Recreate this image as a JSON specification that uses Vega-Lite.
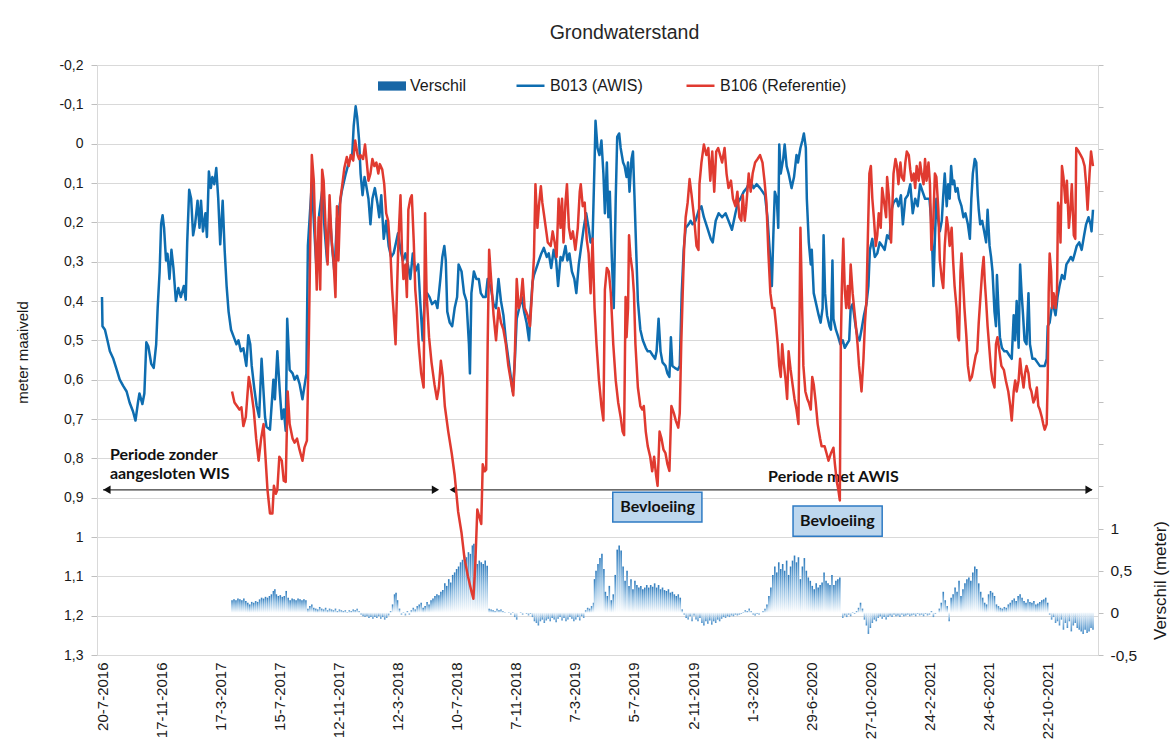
{
  "$schema": "https://vega.github.io/schema/vega-lite/v6.json",
  "width": 1001,
  "height": 590,
  "autosize": {"type": "none"},
  "padding": {"left": 97, "top": 65, "right": 78, "bottom": 101},
  "background": "#ffffff",
  "title": {"text": "Grondwaterstand", "frame": "group", "anchor": "middle", "dx": 27, "offset": 15, "font": "Liberation Sans", "fontSize": 19.5, "fontWeight": "normal", "color": "#262626"},
  "datasets": {
    "b013": [
      {"d":"2016-07-20","v":0.39},{"d":"2016-07-21","v":0.464},{"d":"2016-07-26","v":0.473},{"d":"2016-07-31","v":0.5},{"d":"2016-08-05","v":0.528},{"d":"2016-08-12","v":0.547},{"d":"2016-08-19","v":0.575},{"d":"2016-08-25","v":0.6},{"d":"2016-09-01","v":0.616},{"d":"2016-09-08","v":0.63},{"d":"2016-09-14","v":0.658},{"d":"2016-09-21","v":0.681},{"d":"2016-09-26","v":0.704},{"d":"2016-10-01","v":0.658},{"d":"2016-10-04","v":0.635},{"d":"2016-10-10","v":0.662},{"d":"2016-10-14","v":0.635},{"d":"2016-10-18","v":0.505},{"d":"2016-10-22","v":0.515},{"d":"2016-10-28","v":0.56},{"d":"2016-11-02","v":0.57},{"d":"2016-11-07","v":0.51},{"d":"2016-11-10","v":0.418},{"d":"2016-11-14","v":0.325},{"d":"2016-11-17","v":0.205},{"d":"2016-11-20","v":0.182},{"d":"2016-11-23","v":0.214},{"d":"2016-11-27","v":0.297},{"d":"2016-11-30","v":0.28},{"d":"2016-12-04","v":0.344},{"d":"2016-12-08","v":0.27},{"d":"2016-12-12","v":0.316},{"d":"2016-12-17","v":0.4},{"d":"2016-12-22","v":0.367},{"d":"2016-12-27","v":0.39},{"d":"2017-01-02","v":0.362},{"d":"2017-01-06","v":0.397},{"d":"2017-01-09","v":0.251},{"d":"2017-01-13","v":0.117},{"d":"2017-01-17","v":0.14},{"d":"2017-01-21","v":0.233},{"d":"2017-01-25","v":0.205},{"d":"2017-01-30","v":0.145},{"d":"2017-02-03","v":0.214},{"d":"2017-02-06","v":0.145},{"d":"2017-02-10","v":0.223},{"d":"2017-02-15","v":0.177},{"d":"2017-02-18","v":0.237},{"d":"2017-02-22","v":0.071},{"d":"2017-02-26","v":0.113},{"d":"2017-03-01","v":0.085},{"d":"2017-03-05","v":0.103},{"d":"2017-03-09","v":0.062},{"d":"2017-03-13","v":0.14},{"d":"2017-03-17","v":0.256},{"d":"2017-03-22","v":0.145},{"d":"2017-03-26","v":0.27},{"d":"2017-03-30","v":0.362},{"d":"2017-04-03","v":0.427},{"d":"2017-04-08","v":0.473},{"d":"2017-04-13","v":0.49},{"d":"2017-04-19","v":0.51},{"d":"2017-04-23","v":0.5},{"d":"2017-04-28","v":0.528},{"d":"2017-05-03","v":0.52},{"d":"2017-05-09","v":0.565},{"d":"2017-05-13","v":0.487},{"d":"2017-05-17","v":0.51},{"d":"2017-05-20","v":0.565},{"d":"2017-05-25","v":0.62},{"d":"2017-05-30","v":0.667},{"d":"2017-06-04","v":0.695},{"d":"2017-06-09","v":0.547},{"d":"2017-06-16","v":0.695},{"d":"2017-06-19","v":0.72},{"d":"2017-06-26","v":0.727},{"d":"2017-07-03","v":0.6},{"d":"2017-07-06","v":0.65},{"d":"2017-07-11","v":0.528},{"d":"2017-07-16","v":0.63},{"d":"2017-07-20","v":0.7},{"d":"2017-07-24","v":0.676},{"d":"2017-07-28","v":0.73},{"d":"2017-07-31","v":0.445},{"d":"2017-08-05","v":0.575},{"d":"2017-08-11","v":0.584},{"d":"2017-08-15","v":0.6},{"d":"2017-08-20","v":0.59},{"d":"2017-08-25","v":0.61},{"d":"2017-08-31","v":0.65},{"d":"2017-09-08","v":0.584},{"d":"2017-09-11","v":0.26},{"d":"2017-09-14","v":0.2},{"d":"2017-09-19","v":0.1},{"d":"2017-09-24","v":0.22},{"d":"2017-09-29","v":0.33},{"d":"2017-10-04","v":0.18},{"d":"2017-10-10","v":0.12},{"d":"2017-10-15","v":0.22},{"d":"2017-10-20","v":0.3},{"d":"2017-10-25","v":0.17},{"d":"2017-10-30","v":0.26},{"d":"2017-11-04","v":0.33},{"d":"2017-11-09","v":0.19},{"d":"2017-11-14","v":0.16},{"d":"2017-11-19","v":0.12},{"d":"2017-11-22","v":0.103},{"d":"2017-11-27","v":0.076},{"d":"2017-12-03","v":0.048},{"d":"2017-12-10","v":0.029},{"d":"2017-12-13","v":-0.045},{"d":"2017-12-17","v":-0.095},{"d":"2017-12-20","v":-0.068},{"d":"2017-12-24","v":-0.008},{"d":"2017-12-27","v":0.076},{"d":"2017-12-31","v":0.131},{"d":"2018-01-04","v":0.085},{"d":"2018-01-07","v":0.103},{"d":"2018-01-12","v":0.14},{"d":"2018-01-16","v":0.205},{"d":"2018-01-20","v":0.14},{"d":"2018-01-25","v":0.113},{"d":"2018-01-30","v":0.15},{"d":"2018-02-03","v":0.187},{"d":"2018-02-07","v":0.131},{"d":"2018-02-12","v":0.242},{"d":"2018-02-17","v":0.196},{"d":"2018-02-22","v":0.26},{"d":"2018-02-27","v":0.288},{"d":"2018-03-04","v":0.279},{"d":"2018-03-09","v":0.251},{"d":"2018-03-13","v":0.228},{"d":"2018-03-18","v":0.27},{"d":"2018-03-23","v":0.297},{"d":"2018-03-28","v":0.279},{"d":"2018-04-02","v":0.307},{"d":"2018-04-07","v":0.344},{"d":"2018-04-12","v":0.279},{"d":"2018-04-17","v":0.325},{"d":"2018-04-23","v":0.307},{"d":"2018-04-27","v":0.4},{"d":"2018-05-02","v":0.5},{"d":"2018-05-06","v":0.4},{"d":"2018-05-11","v":0.38},{"d":"2018-05-16","v":0.39},{"d":"2018-05-21","v":0.408},{"d":"2018-05-28","v":0.4},{"d":"2018-06-01","v":0.418},{"d":"2018-06-07","v":0.344},{"d":"2018-06-11","v":0.288},{"d":"2018-06-15","v":0.26},{"d":"2018-06-18","v":0.297},{"d":"2018-06-21","v":0.427},{"d":"2018-06-26","v":0.455},{"d":"2018-07-01","v":0.464},{"d":"2018-07-06","v":0.418},{"d":"2018-07-11","v":0.39},{"d":"2018-07-14","v":0.307},{"d":"2018-07-20","v":0.325},{"d":"2018-07-25","v":0.38},{"d":"2018-07-30","v":0.4},{"d":"2018-08-04","v":0.51},{"d":"2018-08-06","v":0.584},{"d":"2018-08-09","v":0.38},{"d":"2018-08-14","v":0.325},{"d":"2018-08-19","v":0.344},{"d":"2018-08-24","v":0.344},{"d":"2018-08-28","v":0.38},{"d":"2018-09-02","v":0.39},{"d":"2018-09-07","v":0.39},{"d":"2018-09-11","v":0.344},{"d":"2018-09-18","v":0.37},{"d":"2018-09-23","v":0.408},{"d":"2018-09-28","v":0.418},{"d":"2018-10-03","v":0.344},{"d":"2018-10-08","v":0.4},{"d":"2018-10-13","v":0.436},{"d":"2018-10-18","v":0.5},{"d":"2018-10-25","v":0.565},{"d":"2018-11-01","v":0.63},{"d":"2018-11-05","v":0.556},{"d":"2018-11-09","v":0.445},{"d":"2018-11-14","v":0.418},{"d":"2018-11-19","v":0.39},{"d":"2018-11-24","v":0.427},{"d":"2018-11-29","v":0.455},{"d":"2018-12-04","v":0.5},{"d":"2018-12-07","v":0.427},{"d":"2018-12-11","v":0.353},{"d":"2018-12-14","v":0.334},{"d":"2018-12-19","v":0.316},{"d":"2018-12-24","v":0.297},{"d":"2018-12-29","v":0.279},{"d":"2019-01-03","v":0.265},{"d":"2019-01-09","v":0.288},{"d":"2019-01-13","v":0.279},{"d":"2019-01-18","v":0.316},{"d":"2019-01-23","v":0.27},{"d":"2019-01-28","v":0.297},{"d":"2019-02-01","v":0.362},{"d":"2019-02-06","v":0.288},{"d":"2019-02-10","v":0.297},{"d":"2019-02-16","v":0.26},{"d":"2019-02-20","v":0.297},{"d":"2019-02-24","v":0.279},{"d":"2019-03-01","v":0.325},{"d":"2019-03-06","v":0.344},{"d":"2019-03-10","v":0.38},{"d":"2019-03-15","v":0.307},{"d":"2019-03-19","v":0.27},{"d":"2019-03-25","v":0.214},{"d":"2019-03-30","v":0.177},{"d":"2019-04-04","v":0.214},{"d":"2019-04-08","v":0.251},{"d":"2019-04-12","v":0.242},{"d":"2019-04-16","v":0.048},{"d":"2019-04-18","v":-0.058},{"d":"2019-04-22","v":0.011},{"d":"2019-04-26","v":0.029},{"d":"2019-04-30","v":-0.008},{"d":"2019-05-04","v":0.076},{"d":"2019-05-07","v":0.177},{"d":"2019-05-11","v":0.048},{"d":"2019-05-14","v":0.187},{"d":"2019-05-17","v":0.122},{"d":"2019-05-21","v":0.288},{"d":"2019-05-25","v":0.418},{"d":"2019-05-29","v":0.14},{"d":"2019-06-01","v":-0.017},{"d":"2019-06-05","v":-0.026},{"d":"2019-06-08","v":0.011},{"d":"2019-06-13","v":0.048},{"d":"2019-06-16","v":0.057},{"d":"2019-06-20","v":0.085},{"d":"2019-06-23","v":0.048},{"d":"2019-06-26","v":0.122},{"d":"2019-06-30","v":0.039},{"d":"2019-07-03","v":0.02},{"d":"2019-07-06","v":0.131},{"d":"2019-07-10","v":0.288},{"d":"2019-07-13","v":0.4},{"d":"2019-07-18","v":0.473},{"d":"2019-07-23","v":0.5},{"d":"2019-07-29","v":0.519},{"d":"2019-08-02","v":0.528},{"d":"2019-08-07","v":0.528},{"d":"2019-08-12","v":0.538},{"d":"2019-08-17","v":0.547},{"d":"2019-08-20","v":0.528},{"d":"2019-08-24","v":0.445},{"d":"2019-08-28","v":0.528},{"d":"2019-09-01","v":0.556},{"d":"2019-09-07","v":0.565},{"d":"2019-09-11","v":0.584},{"d":"2019-09-15","v":0.593},{"d":"2019-09-18","v":0.492},{"d":"2019-09-21","v":0.565},{"d":"2019-09-26","v":0.57},{"d":"2019-10-02","v":0.575},{"d":"2019-10-06","v":0.565},{"d":"2019-10-10","v":0.38},{"d":"2019-10-14","v":0.27},{"d":"2019-10-18","v":0.214},{"d":"2019-10-24","v":0.205},{"d":"2019-10-28","v":0.196},{"d":"2019-11-01","v":0.205},{"d":"2019-11-07","v":0.196},{"d":"2019-11-14","v":0.168},{"d":"2019-11-19","v":0.159},{"d":"2019-11-24","v":0.187},{"d":"2019-12-01","v":0.214},{"d":"2019-12-08","v":0.242},{"d":"2019-12-12","v":0.251},{"d":"2019-12-18","v":0.196},{"d":"2019-12-24","v":0.177},{"d":"2019-12-31","v":0.187},{"d":"2020-01-07","v":0.177},{"d":"2020-01-13","v":0.196},{"d":"2020-01-20","v":0.219},{"d":"2020-01-27","v":0.177},{"d":"2020-02-01","v":0.15},{"d":"2020-02-06","v":0.14},{"d":"2020-02-13","v":0.122},{"d":"2020-02-19","v":0.113},{"d":"2020-02-26","v":0.094},{"d":"2020-03-04","v":0.113},{"d":"2020-03-10","v":0.103},{"d":"2020-03-17","v":0.113},{"d":"2020-03-22","v":0.122},{"d":"2020-03-27","v":0.131},{"d":"2020-04-01","v":0.187},{"d":"2020-04-06","v":0.279},{"d":"2020-04-10","v":0.362},{"d":"2020-04-13","v":0.233},{"d":"2020-04-16","v":0.122},{"d":"2020-04-20","v":0.14},{"d":"2020-04-23","v":0.214},{"d":"2020-04-25","v":0.002},{"d":"2020-04-28","v":0.076},{"d":"2020-05-03","v":0.039},{"d":"2020-05-06","v":0.002},{"d":"2020-05-10","v":0.057},{"d":"2020-05-14","v":0.076},{"d":"2020-05-20","v":0.113},{"d":"2020-05-25","v":0.085},{"d":"2020-05-30","v":0.029},{"d":"2020-06-02","v":0.048},{"d":"2020-06-07","v":0.011},{"d":"2020-06-11","v":-0.008},{"d":"2020-06-14","v":-0.026},{"d":"2020-06-18","v":0.011},{"d":"2020-06-20","v":0.14},{"d":"2020-06-24","v":0.251},{"d":"2020-06-28","v":0.307},{"d":"2020-06-30","v":0.27},{"d":"2020-07-04","v":0.38},{"d":"2020-07-09","v":0.408},{"d":"2020-07-14","v":0.436},{"d":"2020-07-18","v":0.455},{"d":"2020-07-22","v":0.418},{"d":"2020-07-24","v":0.233},{"d":"2020-07-27","v":0.38},{"d":"2020-07-31","v":0.436},{"d":"2020-08-05","v":0.464},{"d":"2020-08-08","v":0.473},{"d":"2020-08-11","v":0.297},{"d":"2020-08-13","v":0.445},{"d":"2020-08-18","v":0.473},{"d":"2020-08-23","v":0.492},{"d":"2020-08-27","v":0.51},{"d":"2020-09-01","v":0.5},{"d":"2020-09-05","v":0.519},{"d":"2020-09-09","v":0.51},{"d":"2020-09-14","v":0.5},{"d":"2020-09-17","v":0.418},{"d":"2020-09-21","v":0.408},{"d":"2020-09-24","v":0.436},{"d":"2020-09-27","v":0.464},{"d":"2020-10-01","v":0.492},{"d":"2020-10-05","v":0.5},{"d":"2020-10-09","v":0.473},{"d":"2020-10-14","v":0.436},{"d":"2020-10-19","v":0.408},{"d":"2020-10-23","v":0.362},{"d":"2020-10-26","v":0.27},{"d":"2020-10-31","v":0.242},{"d":"2020-11-05","v":0.288},{"d":"2020-11-10","v":0.279},{"d":"2020-11-15","v":0.251},{"d":"2020-11-20","v":0.26},{"d":"2020-11-25","v":0.27},{"d":"2020-11-30","v":0.233},{"d":"2020-12-05","v":0.242},{"d":"2020-12-09","v":0.168},{"d":"2020-12-13","v":0.15},{"d":"2020-12-19","v":0.14},{"d":"2020-12-23","v":0.159},{"d":"2020-12-28","v":0.131},{"d":"2021-01-01","v":0.205},{"d":"2021-01-06","v":0.14},{"d":"2021-01-11","v":0.131},{"d":"2021-01-16","v":0.103},{"d":"2021-01-21","v":0.177},{"d":"2021-01-26","v":0.14},{"d":"2021-01-31","v":0.159},{"d":"2021-02-05","v":0.103},{"d":"2021-02-10","v":0.122},{"d":"2021-02-15","v":0.14},{"d":"2021-02-20","v":0.14},{"d":"2021-02-24","v":0.14},{"d":"2021-02-27","v":0.187},{"d":"2021-03-02","v":0.279},{"d":"2021-03-04","v":0.362},{"d":"2021-03-07","v":0.242},{"d":"2021-03-10","v":0.14},{"d":"2021-03-14","v":0.196},{"d":"2021-03-17","v":0.223},{"d":"2021-03-21","v":0.196},{"d":"2021-03-24","v":0.131},{"d":"2021-03-27","v":0.076},{"d":"2021-03-31","v":0.159},{"d":"2021-04-03","v":0.103},{"d":"2021-04-06","v":0.14},{"d":"2021-04-09","v":0.057},{"d":"2021-04-12","v":0.103},{"d":"2021-04-15","v":0.094},{"d":"2021-04-18","v":0.122},{"d":"2021-04-22","v":0.113},{"d":"2021-04-25","v":0.14},{"d":"2021-04-30","v":0.159},{"d":"2021-05-04","v":0.187},{"d":"2021-05-08","v":0.177},{"d":"2021-05-13","v":0.205},{"d":"2021-05-17","v":0.242},{"d":"2021-05-20","v":0.14},{"d":"2021-05-23","v":0.076},{"d":"2021-05-27","v":0.039},{"d":"2021-05-30","v":0.048},{"d":"2021-06-02","v":0.131},{"d":"2021-06-04","v":0.168},{"d":"2021-06-07","v":0.205},{"d":"2021-06-11","v":0.196},{"d":"2021-06-15","v":0.223},{"d":"2021-06-19","v":0.251},{"d":"2021-06-22","v":0.168},{"d":"2021-06-26","v":0.26},{"d":"2021-06-29","v":0.288},{"d":"2021-07-02","v":0.325},{"d":"2021-07-06","v":0.427},{"d":"2021-07-09","v":0.464},{"d":"2021-07-11","v":0.334},{"d":"2021-07-14","v":0.418},{"d":"2021-07-17","v":0.492},{"d":"2021-07-21","v":0.519},{"d":"2021-07-26","v":0.528},{"d":"2021-07-31","v":0.528},{"d":"2021-08-05","v":0.538},{"d":"2021-08-10","v":0.547},{"d":"2021-08-14","v":0.436},{"d":"2021-08-17","v":0.5},{"d":"2021-08-20","v":0.4},{"d":"2021-08-24","v":0.519},{"d":"2021-08-27","v":0.307},{"d":"2021-08-30","v":0.38},{"d":"2021-09-02","v":0.436},{"d":"2021-09-05","v":0.5},{"d":"2021-09-09","v":0.51},{"d":"2021-09-13","v":0.38},{"d":"2021-09-16","v":0.51},{"d":"2021-09-21","v":0.547},{"d":"2021-09-26","v":0.547},{"d":"2021-10-01","v":0.556},{"d":"2021-10-06","v":0.565},{"d":"2021-10-11","v":0.565},{"d":"2021-10-16","v":0.565},{"d":"2021-10-20","v":0.547},{"d":"2021-10-22","v":0.464},{"d":"2021-10-26","v":0.455},{"d":"2021-10-30","v":0.418},{"d":"2021-11-02","v":0.408},{"d":"2021-11-07","v":0.436},{"d":"2021-11-11","v":0.39},{"d":"2021-11-15","v":0.362},{"d":"2021-11-20","v":0.334},{"d":"2021-11-25","v":0.344},{"d":"2021-11-29","v":0.307},{"d":"2021-12-04","v":0.297},{"d":"2021-12-08","v":0.288},{"d":"2021-12-12","v":0.297},{"d":"2021-12-16","v":0.279},{"d":"2021-12-20","v":0.26},{"d":"2021-12-25","v":0.251},{"d":"2021-12-30","v":0.27},{"d":"2022-01-04","v":0.233},{"d":"2022-01-08","v":0.205},{"d":"2022-01-13","v":0.187},{"d":"2022-01-17","v":0.205},{"d":"2022-01-19","v":0.223},{"d":"2022-01-22","v":0.168}
    ],
    "b106": [
      {"d":"2017-04-10","v":0.63},{"d":"2017-04-15","v":0.658},{"d":"2017-04-20","v":0.667},{"d":"2017-04-25","v":0.676},{"d":"2017-04-29","v":0.67},{"d":"2017-05-03","v":0.718},{"d":"2017-05-08","v":0.695},{"d":"2017-05-14","v":0.593},{"d":"2017-05-18","v":0.62},{"d":"2017-05-24","v":0.676},{"d":"2017-05-29","v":0.75},{"d":"2017-06-03","v":0.806},{"d":"2017-06-08","v":0.75},{"d":"2017-06-13","v":0.713},{"d":"2017-06-16","v":0.778},{"d":"2017-06-21","v":0.88},{"d":"2017-06-26","v":0.94},{"d":"2017-07-01","v":0.94},{"d":"2017-07-04","v":0.87},{"d":"2017-07-08","v":0.89},{"d":"2017-07-11","v":0.88},{"d":"2017-07-15","v":0.796},{"d":"2017-07-20","v":0.806},{"d":"2017-07-24","v":0.857},{"d":"2017-07-28","v":0.86},{"d":"2017-08-01","v":0.63},{"d":"2017-08-05","v":0.713},{"d":"2017-08-11","v":0.75},{"d":"2017-08-15","v":0.76},{"d":"2017-08-20","v":0.75},{"d":"2017-08-25","v":0.778},{"d":"2017-08-31","v":0.806},{"d":"2017-09-04","v":0.773},{"d":"2017-09-09","v":0.755},{"d":"2017-09-13","v":0.492},{"d":"2017-09-16","v":0.233},{"d":"2017-09-19","v":0.029},{"d":"2017-09-23","v":0.094},{"d":"2017-09-26","v":0.233},{"d":"2017-09-29","v":0.371},{"d":"2017-10-03","v":0.187},{"d":"2017-10-06","v":0.371},{"d":"2017-10-10","v":0.066},{"d":"2017-10-13","v":0.094},{"d":"2017-10-17","v":0.214},{"d":"2017-10-21","v":0.307},{"d":"2017-10-25","v":0.131},{"d":"2017-10-29","v":0.242},{"d":"2017-11-02","v":0.297},{"d":"2017-11-06","v":0.39},{"d":"2017-11-09","v":0.159},{"d":"2017-11-12","v":0.297},{"d":"2017-11-16","v":0.14},{"d":"2017-11-20","v":0.103},{"d":"2017-11-24","v":0.062},{"d":"2017-11-29","v":0.034},{"d":"2017-12-03","v":0.057},{"d":"2017-12-07","v":0.029},{"d":"2017-12-12","v":0.043},{"d":"2017-12-16","v":-0.008},{"d":"2017-12-21","v":0.029},{"d":"2017-12-24","v":0.039},{"d":"2017-12-27","v":0.029},{"d":"2018-01-01","v":0.039},{"d":"2018-01-05","v":0.002},{"d":"2018-01-08","v":0.039},{"d":"2018-01-12","v":0.094},{"d":"2018-01-16","v":0.076},{"d":"2018-01-20","v":0.039},{"d":"2018-01-24","v":0.057},{"d":"2018-01-28","v":0.048},{"d":"2018-02-01","v":0.076},{"d":"2018-02-04","v":0.052},{"d":"2018-02-09","v":0.066},{"d":"2018-02-13","v":0.103},{"d":"2018-02-17","v":0.177},{"d":"2018-02-21","v":0.196},{"d":"2018-02-26","v":0.288},{"d":"2018-03-01","v":0.371},{"d":"2018-03-04","v":0.427},{"d":"2018-03-08","v":0.51},{"d":"2018-03-11","v":0.371},{"d":"2018-03-14","v":0.242},{"d":"2018-03-18","v":0.131},{"d":"2018-03-21","v":0.27},{"d":"2018-03-24","v":0.344},{"d":"2018-03-28","v":0.307},{"d":"2018-03-31","v":0.39},{"d":"2018-04-03","v":0.168},{"d":"2018-04-07","v":0.14},{"d":"2018-04-10","v":0.131},{"d":"2018-04-14","v":0.251},{"d":"2018-04-17","v":0.371},{"d":"2018-04-20","v":0.418},{"d":"2018-04-24","v":0.51},{"d":"2018-04-29","v":0.584},{"d":"2018-05-04","v":0.62},{"d":"2018-05-07","v":0.177},{"d":"2018-05-10","v":0.38},{"d":"2018-05-15","v":0.492},{"d":"2018-05-20","v":0.556},{"d":"2018-05-26","v":0.612},{"d":"2018-05-31","v":0.649},{"d":"2018-06-04","v":0.62},{"d":"2018-06-08","v":0.552},{"d":"2018-06-12","v":0.593},{"d":"2018-06-16","v":0.667},{"d":"2018-06-23","v":0.732},{"d":"2018-06-30","v":0.787},{"d":"2018-07-06","v":0.843},{"d":"2018-07-13","v":0.935},{"d":"2018-07-20","v":0.99},{"d":"2018-07-26","v":1.055},{"d":"2018-08-02","v":1.1},{"d":"2018-08-09","v":1.138},{"d":"2018-08-13","v":1.157},{"d":"2018-08-17","v":1.065},{"d":"2018-08-21","v":0.93},{"d":"2018-08-26","v":0.953},{"d":"2018-08-29","v":0.967},{"d":"2018-09-01","v":0.815},{"d":"2018-09-05","v":0.833},{"d":"2018-09-08","v":0.829},{"d":"2018-09-11","v":0.51},{"d":"2018-09-14","v":0.27},{"d":"2018-09-18","v":0.344},{"d":"2018-09-23","v":0.436},{"d":"2018-09-28","v":0.5},{"d":"2018-10-03","v":0.418},{"d":"2018-10-08","v":0.455},{"d":"2018-10-13","v":0.473},{"d":"2018-10-18","v":0.51},{"d":"2018-10-23","v":0.565},{"d":"2018-10-28","v":0.602},{"d":"2018-11-02","v":0.64},{"d":"2018-11-05","v":0.547},{"d":"2018-11-09","v":0.344},{"d":"2018-11-13","v":0.418},{"d":"2018-11-17","v":0.4},{"d":"2018-11-21","v":0.344},{"d":"2018-11-25","v":0.418},{"d":"2018-12-01","v":0.436},{"d":"2018-12-06","v":0.464},{"d":"2018-12-10","v":0.38},{"d":"2018-12-14","v":0.288},{"d":"2018-12-17","v":0.103},{"d":"2018-12-21","v":0.214},{"d":"2018-12-24","v":0.159},{"d":"2018-12-28","v":0.108},{"d":"2018-12-31","v":0.15},{"d":"2019-01-03","v":0.177},{"d":"2019-01-08","v":0.223},{"d":"2019-01-11","v":0.251},{"d":"2019-01-17","v":0.26},{"d":"2019-01-21","v":0.223},{"d":"2019-01-25","v":0.251},{"d":"2019-01-29","v":0.288},{"d":"2019-02-02","v":0.14},{"d":"2019-02-06","v":0.214},{"d":"2019-02-09","v":0.14},{"d":"2019-02-12","v":0.251},{"d":"2019-02-16","v":0.15},{"d":"2019-02-19","v":0.103},{"d":"2019-02-23","v":0.214},{"d":"2019-02-27","v":0.242},{"d":"2019-03-03","v":0.223},{"d":"2019-03-08","v":0.27},{"d":"2019-03-13","v":0.214},{"d":"2019-03-17","v":0.122},{"d":"2019-03-19","v":0.103},{"d":"2019-03-23","v":0.159},{"d":"2019-03-27","v":0.15},{"d":"2019-03-31","v":0.242},{"d":"2019-04-04","v":0.279},{"d":"2019-04-08","v":0.38},{"d":"2019-04-12","v":0.242},{"d":"2019-04-16","v":0.418},{"d":"2019-04-20","v":0.51},{"d":"2019-04-25","v":0.602},{"d":"2019-04-30","v":0.667},{"d":"2019-05-04","v":0.704},{"d":"2019-05-07","v":0.371},{"d":"2019-05-11","v":0.316},{"d":"2019-05-15","v":0.325},{"d":"2019-05-19","v":0.38},{"d":"2019-05-24","v":0.51},{"d":"2019-05-29","v":0.602},{"d":"2019-06-03","v":0.658},{"d":"2019-06-08","v":0.695},{"d":"2019-06-12","v":0.732},{"d":"2019-06-15","v":0.741},{"d":"2019-06-18","v":0.39},{"d":"2019-06-20","v":0.492},{"d":"2019-06-23","v":0.418},{"d":"2019-06-25","v":0.233},{"d":"2019-06-28","v":0.288},{"d":"2019-07-02","v":0.325},{"d":"2019-07-05","v":0.38},{"d":"2019-07-08","v":0.51},{"d":"2019-07-13","v":0.62},{"d":"2019-07-18","v":0.667},{"d":"2019-07-22","v":0.676},{"d":"2019-07-25","v":0.667},{"d":"2019-07-29","v":0.732},{"d":"2019-08-02","v":0.769},{"d":"2019-08-07","v":0.796},{"d":"2019-08-11","v":0.833},{"d":"2019-08-15","v":0.796},{"d":"2019-08-19","v":0.843},{"d":"2019-08-22","v":0.87},{"d":"2019-08-26","v":0.732},{"d":"2019-08-30","v":0.75},{"d":"2019-09-03","v":0.778},{"d":"2019-09-07","v":0.787},{"d":"2019-09-11","v":0.815},{"d":"2019-09-15","v":0.832},{"d":"2019-09-19","v":0.667},{"d":"2019-09-24","v":0.685},{"d":"2019-09-28","v":0.704},{"d":"2019-10-03","v":0.722},{"d":"2019-10-06","v":0.685},{"d":"2019-10-09","v":0.51},{"d":"2019-10-12","v":0.38},{"d":"2019-10-15","v":0.26},{"d":"2019-10-18","v":0.187},{"d":"2019-10-22","v":0.15},{"d":"2019-10-26","v":0.09},{"d":"2019-10-30","v":0.13},{"d":"2019-11-04","v":0.187},{"d":"2019-11-09","v":0.26},{"d":"2019-11-13","v":0.27},{"d":"2019-11-15","v":0.103},{"d":"2019-11-19","v":0.048},{"d":"2019-11-24","v":0.002},{"d":"2019-11-29","v":0.029},{"d":"2019-12-03","v":0.011},{"d":"2019-12-07","v":0.094},{"d":"2019-12-11","v":0.02},{"d":"2019-12-15","v":0.122},{"d":"2019-12-19","v":0.02},{"d":"2019-12-23","v":0.011},{"d":"2019-12-27","v":0.029},{"d":"2019-12-31","v":0.048},{"d":"2020-01-05","v":0.011},{"d":"2020-01-09","v":0.076},{"d":"2020-01-13","v":0.113},{"d":"2020-01-18","v":0.094},{"d":"2020-01-22","v":0.14},{"d":"2020-01-27","v":0.159},{"d":"2020-01-31","v":0.122},{"d":"2020-02-04","v":0.187},{"d":"2020-02-08","v":0.196},{"d":"2020-02-11","v":0.131},{"d":"2020-02-15","v":0.196},{"d":"2020-02-18","v":0.159},{"d":"2020-02-23","v":0.076},{"d":"2020-02-27","v":0.122},{"d":"2020-03-02","v":0.076},{"d":"2020-03-07","v":0.048},{"d":"2020-03-12","v":0.039},{"d":"2020-03-17","v":0.029},{"d":"2020-03-22","v":0.048},{"d":"2020-03-26","v":0.094},{"d":"2020-03-30","v":0.15},{"d":"2020-04-03","v":0.279},{"d":"2020-04-07","v":0.38},{"d":"2020-04-11","v":0.418},{"d":"2020-04-15","v":0.418},{"d":"2020-04-18","v":0.455},{"d":"2020-04-22","v":0.51},{"d":"2020-04-25","v":0.565},{"d":"2020-04-28","v":0.593},{"d":"2020-05-01","v":0.51},{"d":"2020-05-04","v":0.556},{"d":"2020-05-08","v":0.602},{"d":"2020-05-11","v":0.649},{"d":"2020-05-14","v":0.528},{"d":"2020-05-18","v":0.574},{"d":"2020-05-22","v":0.612},{"d":"2020-05-26","v":0.649},{"d":"2020-05-30","v":0.676},{"d":"2020-06-03","v":0.713},{"d":"2020-06-07","v":0.214},{"d":"2020-06-10","v":0.39},{"d":"2020-06-13","v":0.565},{"d":"2020-06-17","v":0.63},{"d":"2020-06-21","v":0.649},{"d":"2020-06-24","v":0.658},{"d":"2020-06-28","v":0.676},{"d":"2020-07-01","v":0.593},{"d":"2020-07-04","v":0.612},{"d":"2020-07-08","v":0.658},{"d":"2020-07-12","v":0.713},{"d":"2020-07-17","v":0.75},{"d":"2020-07-20","v":0.769},{"d":"2020-07-26","v":0.769},{"d":"2020-07-30","v":0.787},{"d":"2020-08-03","v":0.806},{"d":"2020-08-08","v":0.787},{"d":"2020-08-13","v":0.773},{"d":"2020-08-16","v":0.815},{"d":"2020-08-20","v":0.861},{"d":"2020-08-23","v":0.88},{"d":"2020-08-26","v":0.907},{"d":"2020-08-28","v":0.51},{"d":"2020-08-30","v":0.371},{"d":"2020-09-02","v":0.242},{"d":"2020-09-05","v":0.371},{"d":"2020-09-08","v":0.418},{"d":"2020-09-11","v":0.362},{"d":"2020-09-14","v":0.418},{"d":"2020-09-17","v":0.307},{"d":"2020-09-21","v":0.38},{"d":"2020-09-24","v":0.418},{"d":"2020-09-27","v":0.455},{"d":"2020-10-01","v":0.51},{"d":"2020-10-04","v":0.565},{"d":"2020-10-07","v":0.602},{"d":"2020-10-09","v":0.63},{"d":"2020-10-13","v":0.547},{"d":"2020-10-16","v":0.455},{"d":"2020-10-19","v":0.4},{"d":"2020-10-22","v":0.233},{"d":"2020-10-25","v":0.076},{"d":"2020-10-28","v":0.057},{"d":"2020-10-31","v":0.14},{"d":"2020-11-03","v":0.187},{"d":"2020-11-07","v":0.26},{"d":"2020-11-10","v":0.233},{"d":"2020-11-13","v":0.177},{"d":"2020-11-17","v":0.214},{"d":"2020-11-20","v":0.113},{"d":"2020-11-23","v":0.14},{"d":"2020-11-28","v":0.187},{"d":"2020-11-30","v":0.085},{"d":"2020-12-04","v":0.14},{"d":"2020-12-08","v":0.251},{"d":"2020-12-13","v":0.076},{"d":"2020-12-17","v":0.039},{"d":"2020-12-20","v":0.057},{"d":"2020-12-23","v":0.103},{"d":"2020-12-27","v":0.048},{"d":"2020-12-30","v":0.085},{"d":"2021-01-03","v":0.094},{"d":"2021-01-06","v":0.048},{"d":"2021-01-09","v":0.02},{"d":"2021-01-13","v":0.029},{"d":"2021-01-16","v":0.066},{"d":"2021-01-19","v":0.094},{"d":"2021-01-23","v":0.076},{"d":"2021-01-26","v":0.113},{"d":"2021-01-29","v":0.057},{"d":"2021-02-02","v":0.094},{"d":"2021-02-05","v":0.048},{"d":"2021-02-08","v":0.076},{"d":"2021-02-12","v":0.103},{"d":"2021-02-15","v":0.039},{"d":"2021-02-18","v":0.094},{"d":"2021-02-22","v":0.048},{"d":"2021-02-25","v":0.103},{"d":"2021-02-28","v":0.27},{"d":"2021-03-04","v":0.187},{"d":"2021-03-07","v":0.076},{"d":"2021-03-10","v":0.085},{"d":"2021-03-14","v":0.168},{"d":"2021-03-17","v":0.297},{"d":"2021-03-21","v":0.344},{"d":"2021-03-24","v":0.367},{"d":"2021-03-27","v":0.26},{"d":"2021-03-31","v":0.187},{"d":"2021-04-03","v":0.214},{"d":"2021-04-06","v":0.26},{"d":"2021-04-10","v":0.214},{"d":"2021-04-13","v":0.297},{"d":"2021-04-16","v":0.362},{"d":"2021-04-20","v":0.418},{"d":"2021-04-23","v":0.492},{"d":"2021-04-25","v":0.5},{"d":"2021-04-28","v":0.325},{"d":"2021-04-30","v":0.279},{"d":"2021-05-03","v":0.344},{"d":"2021-05-06","v":0.418},{"d":"2021-05-10","v":0.492},{"d":"2021-05-13","v":0.565},{"d":"2021-05-17","v":0.602},{"d":"2021-05-21","v":0.593},{"d":"2021-05-25","v":0.565},{"d":"2021-05-29","v":0.538},{"d":"2021-06-01","v":0.528},{"d":"2021-06-04","v":0.455},{"d":"2021-06-08","v":0.38},{"d":"2021-06-11","v":0.325},{"d":"2021-06-14","v":0.288},{"d":"2021-06-16","v":0.344},{"d":"2021-06-19","v":0.4},{"d":"2021-06-22","v":0.464},{"d":"2021-06-26","v":0.528},{"d":"2021-06-29","v":0.575},{"d":"2021-07-02","v":0.602},{"d":"2021-07-06","v":0.62},{"d":"2021-07-09","v":0.51},{"d":"2021-07-12","v":0.492},{"d":"2021-07-16","v":0.528},{"d":"2021-07-20","v":0.565},{"d":"2021-07-25","v":0.575},{"d":"2021-07-29","v":0.602},{"d":"2021-08-03","v":0.63},{"d":"2021-08-07","v":0.667},{"d":"2021-08-10","v":0.704},{"d":"2021-08-14","v":0.63},{"d":"2021-08-17","v":0.602},{"d":"2021-08-20","v":0.63},{"d":"2021-08-24","v":0.602},{"d":"2021-08-27","v":0.547},{"d":"2021-08-30","v":0.584},{"d":"2021-09-03","v":0.62},{"d":"2021-09-06","v":0.584},{"d":"2021-09-09","v":0.565},{"d":"2021-09-13","v":0.584},{"d":"2021-09-16","v":0.62},{"d":"2021-09-19","v":0.63},{"d":"2021-09-23","v":0.658},{"d":"2021-09-26","v":0.649},{"d":"2021-09-30","v":0.62},{"d":"2021-10-03","v":0.667},{"d":"2021-10-06","v":0.676},{"d":"2021-10-10","v":0.695},{"d":"2021-10-13","v":0.713},{"d":"2021-10-16","v":0.727},{"d":"2021-10-20","v":0.713},{"d":"2021-10-22","v":0.602},{"d":"2021-10-24","v":0.38},{"d":"2021-10-26","v":0.279},{"d":"2021-10-29","v":0.325},{"d":"2021-10-31","v":0.418},{"d":"2021-11-03","v":0.38},{"d":"2021-11-07","v":0.418},{"d":"2021-11-10","v":0.371},{"d":"2021-11-12","v":0.15},{"d":"2021-11-15","v":0.168},{"d":"2021-11-17","v":0.251},{"d":"2021-11-20","v":0.057},{"d":"2021-11-23","v":0.085},{"d":"2021-11-27","v":0.15},{"d":"2021-11-30","v":0.094},{"d":"2021-12-04","v":0.214},{"d":"2021-12-07","v":0.168},{"d":"2021-12-10","v":0.103},{"d":"2021-12-14","v":0.233},{"d":"2021-12-17","v":0.242},{"d":"2021-12-19","v":0.011},{"d":"2021-12-24","v":0.02},{"d":"2021-12-28","v":0.029},{"d":"2022-01-01","v":0.039},{"d":"2022-01-05","v":0.057},{"d":"2022-01-08","v":0.103},{"d":"2022-01-11","v":0.168},{"d":"2022-01-15","v":0.076},{"d":"2022-01-18","v":0.02},{"d":"2022-01-21","v":0.048},{"d":"2022-01-22","v":0.057}
    ],
    "verschil": [
      {"d":"2017-04-10","v":0.15},{"d":"2017-04-14","v":0.16},{"d":"2017-04-18","v":0.15},{"d":"2017-04-22","v":0.17},{"d":"2017-04-26","v":0.16},{"d":"2017-04-30","v":0.15},{"d":"2017-05-04","v":0.17},{"d":"2017-05-08","v":0.14},{"d":"2017-05-12","v":0.12},{"d":"2017-05-16","v":0.1},{"d":"2017-05-20","v":0.13},{"d":"2017-05-24","v":0.12},{"d":"2017-05-28","v":0.14},{"d":"2017-06-01","v":0.13},{"d":"2017-06-05","v":0.16},{"d":"2017-06-09","v":0.18},{"d":"2017-06-13","v":0.17},{"d":"2017-06-17","v":0.19},{"d":"2017-06-21","v":0.18},{"d":"2017-06-25","v":0.2},{"d":"2017-06-29","v":0.22},{"d":"2017-07-03","v":0.26},{"d":"2017-07-06","v":0.28},{"d":"2017-07-09","v":0.22},{"d":"2017-07-13","v":0.2},{"d":"2017-07-17","v":0.21},{"d":"2017-07-21","v":0.19},{"d":"2017-07-25","v":0.2},{"d":"2017-07-29","v":0.26},{"d":"2017-08-02","v":0.18},{"d":"2017-08-06","v":0.15},{"d":"2017-08-10","v":0.17},{"d":"2017-08-14","v":0.16},{"d":"2017-08-18","v":0.15},{"d":"2017-08-22","v":0.17},{"d":"2017-08-26","v":0.16},{"d":"2017-08-30","v":0.15},{"d":"2017-09-03","v":0.16},{"d":"2017-09-07","v":0.15},{"d":"2017-09-11","v":0.05},{"d":"2017-09-15","v":0.08},{"d":"2017-09-19","v":0.1},{"d":"2017-09-23","v":0.06},{"d":"2017-09-27","v":0.05},{"d":"2017-10-01","v":0.04},{"d":"2017-10-05","v":0.07},{"d":"2017-10-09","v":0.05},{"d":"2017-10-13","v":0.04},{"d":"2017-10-17","v":0.06},{"d":"2017-10-21","v":0.03},{"d":"2017-10-25","v":0.05},{"d":"2017-10-29","v":0.04},{"d":"2017-11-02","v":0.03},{"d":"2017-11-06","v":0.05},{"d":"2017-11-10","v":0.02},{"d":"2017-11-14","v":0.04},{"d":"2017-11-18","v":0.03},{"d":"2017-11-22","v":0.02},{"d":"2017-11-26","v":0.03},{"d":"2017-11-30","v":0.01},{"d":"2017-12-04","v":0.03},{"d":"2017-12-08","v":0.02},{"d":"2017-12-12","v":0.04},{"d":"2017-12-16","v":0.03},{"d":"2017-12-20","v":0.05},{"d":"2017-12-24","v":0.02},{"d":"2017-12-28","v":-0.02},{"d":"2018-01-01","v":-0.04},{"d":"2018-01-05","v":-0.05},{"d":"2018-01-09","v":-0.04},{"d":"2018-01-13","v":-0.06},{"d":"2018-01-17","v":-0.05},{"d":"2018-01-21","v":-0.07},{"d":"2018-01-25","v":-0.05},{"d":"2018-01-29","v":-0.06},{"d":"2018-02-02","v":-0.04},{"d":"2018-02-06","v":-0.07},{"d":"2018-02-10","v":-0.05},{"d":"2018-02-14","v":-0.08},{"d":"2018-02-18","v":-0.06},{"d":"2018-02-22","v":-0.03},{"d":"2018-02-26","v":0.02},{"d":"2018-03-02","v":0.1},{"d":"2018-03-06","v":0.22},{"d":"2018-03-09","v":0.24},{"d":"2018-03-12","v":0.15},{"d":"2018-03-16","v":0.05},{"d":"2018-03-20","v":-0.02},{"d":"2018-03-24","v":0.01},{"d":"2018-03-28","v":-0.03},{"d":"2018-04-01","v":0.02},{"d":"2018-04-05","v":-0.02},{"d":"2018-04-09","v":0.03},{"d":"2018-04-13","v":0.06},{"d":"2018-04-17","v":0.04},{"d":"2018-04-21","v":0.08},{"d":"2018-04-25","v":0.1},{"d":"2018-04-29","v":0.12},{"d":"2018-05-03","v":0.06},{"d":"2018-05-07","v":0.08},{"d":"2018-05-11","v":0.13},{"d":"2018-05-15","v":0.1},{"d":"2018-05-19","v":0.15},{"d":"2018-05-23","v":0.17},{"d":"2018-05-27","v":0.2},{"d":"2018-05-31","v":0.22},{"d":"2018-06-04","v":0.21},{"d":"2018-06-08","v":0.25},{"d":"2018-06-12","v":0.27},{"d":"2018-06-16","v":0.35},{"d":"2018-06-20","v":0.32},{"d":"2018-06-24","v":0.4},{"d":"2018-06-28","v":0.36},{"d":"2018-07-02","v":0.45},{"d":"2018-07-06","v":0.48},{"d":"2018-07-10","v":0.52},{"d":"2018-07-14","v":0.55},{"d":"2018-07-18","v":0.6},{"d":"2018-07-22","v":0.63},{"d":"2018-07-26","v":0.68},{"d":"2018-07-30","v":0.66},{"d":"2018-08-03","v":0.72},{"d":"2018-08-07","v":0.7},{"d":"2018-08-11","v":0.8},{"d":"2018-08-14","v":0.82},{"d":"2018-08-17","v":0.68},{"d":"2018-08-21","v":0.58},{"d":"2018-08-25","v":0.62},{"d":"2018-08-29","v":0.6},{"d":"2018-09-02","v":0.58},{"d":"2018-09-06","v":0.62},{"d":"2018-09-10","v":0.56},{"d":"2018-09-14","v":0.05},{"d":"2018-09-18","v":0.04},{"d":"2018-09-22","v":0.03},{"d":"2018-09-26","v":0.02},{"d":"2018-09-30","v":0.05},{"d":"2018-10-04","v":0.03},{"d":"2018-10-08","v":0.04},{"d":"2018-10-12","v":0.02},{"d":"2018-10-16","v":0.01},{"d":"2018-10-20","v":0.0},{"d":"2018-10-24","v":0.01},{"d":"2018-10-28","v":-0.02},{"d":"2018-11-01","v":0.01},{"d":"2018-11-05","v":-0.05},{"d":"2018-11-09","v":-0.08},{"d":"2018-11-13","v":0.0},{"d":"2018-11-17","v":0.01},{"d":"2018-11-21","v":-0.02},{"d":"2018-11-25","v":0.0},{"d":"2018-11-29","v":-0.01},{"d":"2018-12-03","v":-0.03},{"d":"2018-12-07","v":-0.01},{"d":"2018-12-11","v":-0.05},{"d":"2018-12-15","v":-0.1},{"d":"2018-12-19","v":-0.12},{"d":"2018-12-23","v":-0.15},{"d":"2018-12-27","v":-0.1},{"d":"2018-12-31","v":-0.08},{"d":"2019-01-04","v":-0.12},{"d":"2019-01-08","v":-0.09},{"d":"2019-01-12","v":-0.07},{"d":"2019-01-16","v":-0.1},{"d":"2019-01-20","v":-0.06},{"d":"2019-01-24","v":-0.08},{"d":"2019-01-28","v":-0.11},{"d":"2019-02-01","v":-0.07},{"d":"2019-02-05","v":-0.05},{"d":"2019-02-09","v":-0.09},{"d":"2019-02-13","v":-0.06},{"d":"2019-02-17","v":-0.1},{"d":"2019-02-21","v":-0.08},{"d":"2019-02-25","v":-0.05},{"d":"2019-03-01","v":-0.07},{"d":"2019-03-05","v":-0.1},{"d":"2019-03-09","v":-0.08},{"d":"2019-03-13","v":-0.05},{"d":"2019-03-17","v":-0.09},{"d":"2019-03-21","v":-0.04},{"d":"2019-03-25","v":-0.06},{"d":"2019-03-29","v":0.03},{"d":"2019-04-02","v":0.06},{"d":"2019-04-06","v":0.05},{"d":"2019-04-10","v":0.08},{"d":"2019-04-14","v":0.12},{"d":"2019-04-16","v":0.4},{"d":"2019-04-19","v":0.5},{"d":"2019-04-23","v":0.58},{"d":"2019-04-27","v":0.65},{"d":"2019-05-01","v":0.7},{"d":"2019-05-05","v":0.52},{"d":"2019-05-08","v":0.25},{"d":"2019-05-12","v":0.2},{"d":"2019-05-16","v":0.32},{"d":"2019-05-20","v":0.15},{"d":"2019-05-24","v":0.22},{"d":"2019-05-28","v":0.45},{"d":"2019-06-01","v":0.75},{"d":"2019-06-05","v":0.8},{"d":"2019-06-09","v":0.74},{"d":"2019-06-13","v":0.55},{"d":"2019-06-17","v":0.38},{"d":"2019-06-21","v":0.5},{"d":"2019-06-25","v":0.32},{"d":"2019-06-29","v":0.4},{"d":"2019-07-03","v":0.28},{"d":"2019-07-07","v":0.38},{"d":"2019-07-11","v":0.33},{"d":"2019-07-15","v":0.3},{"d":"2019-07-19","v":0.32},{"d":"2019-07-23","v":0.28},{"d":"2019-07-27","v":0.3},{"d":"2019-07-31","v":0.33},{"d":"2019-08-04","v":0.3},{"d":"2019-08-08","v":0.33},{"d":"2019-08-12","v":0.31},{"d":"2019-08-16","v":0.35},{"d":"2019-08-20","v":0.3},{"d":"2019-08-24","v":0.33},{"d":"2019-08-28","v":0.28},{"d":"2019-09-01","v":0.3},{"d":"2019-09-05","v":0.27},{"d":"2019-09-09","v":0.26},{"d":"2019-09-13","v":0.28},{"d":"2019-09-17","v":0.24},{"d":"2019-09-21","v":0.25},{"d":"2019-09-25","v":0.22},{"d":"2019-09-29","v":0.2},{"d":"2019-10-03","v":0.22},{"d":"2019-10-07","v":0.18},{"d":"2019-10-11","v":0.04},{"d":"2019-10-15","v":-0.02},{"d":"2019-10-19","v":-0.06},{"d":"2019-10-23","v":-0.08},{"d":"2019-10-27","v":-0.04},{"d":"2019-10-31","v":-0.1},{"d":"2019-11-04","v":-0.03},{"d":"2019-11-08","v":-0.08},{"d":"2019-11-12","v":-0.1},{"d":"2019-11-16","v":-0.06},{"d":"2019-11-20","v":-0.12},{"d":"2019-11-24","v":-0.15},{"d":"2019-11-28","v":-0.1},{"d":"2019-12-02","v":-0.13},{"d":"2019-12-06","v":-0.09},{"d":"2019-12-10","v":-0.14},{"d":"2019-12-14","v":-0.1},{"d":"2019-12-18","v":-0.12},{"d":"2019-12-22","v":-0.08},{"d":"2019-12-26","v":-0.1},{"d":"2019-12-30","v":-0.07},{"d":"2020-01-03","v":-0.05},{"d":"2020-01-07","v":-0.06},{"d":"2020-01-11","v":-0.04},{"d":"2020-01-15","v":-0.05},{"d":"2020-01-19","v":-0.03},{"d":"2020-01-23","v":-0.04},{"d":"2020-01-27","v":-0.02},{"d":"2020-01-31","v":-0.03},{"d":"2020-02-04","v":-0.02},{"d":"2020-02-08","v":-0.01},{"d":"2020-02-12","v":0.01},{"d":"2020-02-16","v":0.03},{"d":"2020-02-20","v":0.02},{"d":"2020-02-24","v":0.05},{"d":"2020-02-28","v":0.02},{"d":"2020-03-03","v":-0.02},{"d":"2020-03-07","v":-0.03},{"d":"2020-03-11","v":-0.01},{"d":"2020-03-15","v":-0.02},{"d":"2020-03-19","v":0.0},{"d":"2020-03-23","v":0.02},{"d":"2020-03-27","v":0.05},{"d":"2020-03-31","v":0.1},{"d":"2020-04-04","v":0.2},{"d":"2020-04-08","v":0.3},{"d":"2020-04-12","v":0.45},{"d":"2020-04-16","v":0.55},{"d":"2020-04-20","v":0.48},{"d":"2020-04-24","v":0.6},{"d":"2020-04-28","v":0.52},{"d":"2020-05-02","v":0.58},{"d":"2020-05-06","v":0.5},{"d":"2020-05-10","v":0.62},{"d":"2020-05-14","v":0.45},{"d":"2020-05-18","v":0.55},{"d":"2020-05-22","v":0.62},{"d":"2020-05-26","v":0.68},{"d":"2020-05-30","v":0.6},{"d":"2020-06-03","v":0.66},{"d":"2020-06-07","v":0.4},{"d":"2020-06-11","v":0.55},{"d":"2020-06-15","v":0.65},{"d":"2020-06-19","v":0.5},{"d":"2020-06-23","v":0.42},{"d":"2020-06-27","v":0.38},{"d":"2020-07-01","v":0.32},{"d":"2020-07-05","v":0.28},{"d":"2020-07-09","v":0.35},{"d":"2020-07-13","v":0.3},{"d":"2020-07-17","v":0.33},{"d":"2020-07-21","v":0.36},{"d":"2020-07-25","v":0.48},{"d":"2020-07-29","v":0.38},{"d":"2020-08-02","v":0.35},{"d":"2020-08-06","v":0.33},{"d":"2020-08-10","v":0.45},{"d":"2020-08-14","v":0.33},{"d":"2020-08-18","v":0.38},{"d":"2020-08-22","v":0.4},{"d":"2020-08-26","v":0.42},{"d":"2020-08-29","v":0.0},{"d":"2020-09-01","v":-0.06},{"d":"2020-09-05","v":-0.03},{"d":"2020-09-09","v":-0.05},{"d":"2020-09-13","v":-0.02},{"d":"2020-09-17","v":-0.04},{"d":"2020-09-21","v":0.01},{"d":"2020-09-25","v":-0.01},{"d":"2020-09-29","v":0.02},{"d":"2020-10-03","v":0.06},{"d":"2020-10-07","v":0.12},{"d":"2020-10-11","v":0.05},{"d":"2020-10-15","v":-0.08},{"d":"2020-10-19","v":-0.15},{"d":"2020-10-23","v":-0.25},{"d":"2020-10-27","v":-0.18},{"d":"2020-10-31","v":-0.12},{"d":"2020-11-04","v":-0.08},{"d":"2020-11-08","v":-0.1},{"d":"2020-11-12","v":-0.06},{"d":"2020-11-16","v":-0.04},{"d":"2020-11-20","v":-0.07},{"d":"2020-11-24","v":-0.05},{"d":"2020-11-28","v":-0.08},{"d":"2020-12-02","v":-0.05},{"d":"2020-12-06","v":-0.03},{"d":"2020-12-10","v":-0.05},{"d":"2020-12-14","v":-0.02},{"d":"2020-12-18","v":-0.04},{"d":"2020-12-22","v":-0.03},{"d":"2020-12-26","v":-0.05},{"d":"2020-12-30","v":-0.02},{"d":"2021-01-03","v":-0.04},{"d":"2021-01-07","v":-0.03},{"d":"2021-01-11","v":-0.02},{"d":"2021-01-15","v":-0.04},{"d":"2021-01-19","v":-0.03},{"d":"2021-01-23","v":-0.02},{"d":"2021-01-27","v":-0.04},{"d":"2021-01-31","v":-0.01},{"d":"2021-02-04","v":-0.03},{"d":"2021-02-08","v":-0.02},{"d":"2021-02-12","v":-0.04},{"d":"2021-02-16","v":-0.01},{"d":"2021-02-20","v":-0.03},{"d":"2021-02-24","v":-0.02},{"d":"2021-02-28","v":0.02},{"d":"2021-03-04","v":-0.05},{"d":"2021-03-08","v":-0.01},{"d":"2021-03-12","v":0.0},{"d":"2021-03-16","v":0.05},{"d":"2021-03-20","v":0.12},{"d":"2021-03-24","v":0.25},{"d":"2021-03-28","v":0.15},{"d":"2021-04-01","v":0.08},{"d":"2021-04-05","v":-0.1},{"d":"2021-04-09","v":0.18},{"d":"2021-04-13","v":0.22},{"d":"2021-04-17","v":0.3},{"d":"2021-04-21","v":0.25},{"d":"2021-04-25","v":0.38},{"d":"2021-04-29","v":0.2},{"d":"2021-05-03","v":0.28},{"d":"2021-05-07","v":0.35},{"d":"2021-05-11","v":0.4},{"d":"2021-05-15","v":0.42},{"d":"2021-05-19","v":0.38},{"d":"2021-05-23","v":0.48},{"d":"2021-05-27","v":0.55},{"d":"2021-05-31","v":0.52},{"d":"2021-06-04","v":0.35},{"d":"2021-06-08","v":0.25},{"d":"2021-06-12","v":0.18},{"d":"2021-06-16","v":0.12},{"d":"2021-06-20","v":0.1},{"d":"2021-06-24","v":0.22},{"d":"2021-06-28","v":0.26},{"d":"2021-07-02","v":0.24},{"d":"2021-07-06","v":0.2},{"d":"2021-07-10","v":0.1},{"d":"2021-07-14","v":0.08},{"d":"2021-07-18","v":0.06},{"d":"2021-07-22","v":0.05},{"d":"2021-07-26","v":0.07},{"d":"2021-07-30","v":0.06},{"d":"2021-08-03","v":0.1},{"d":"2021-08-07","v":0.12},{"d":"2021-08-11","v":0.15},{"d":"2021-08-15","v":0.17},{"d":"2021-08-19","v":0.14},{"d":"2021-08-23","v":0.2},{"d":"2021-08-27","v":0.22},{"d":"2021-08-31","v":0.18},{"d":"2021-09-04","v":0.14},{"d":"2021-09-08","v":0.12},{"d":"2021-09-12","v":0.16},{"d":"2021-09-16","v":0.13},{"d":"2021-09-20","v":0.12},{"d":"2021-09-24","v":0.14},{"d":"2021-09-28","v":0.1},{"d":"2021-10-02","v":0.11},{"d":"2021-10-06","v":0.13},{"d":"2021-10-10","v":0.15},{"d":"2021-10-14","v":0.16},{"d":"2021-10-18","v":0.18},{"d":"2021-10-22","v":0.12},{"d":"2021-10-26","v":-0.02},{"d":"2021-10-30","v":-0.08},{"d":"2021-11-03","v":-0.05},{"d":"2021-11-07","v":-0.12},{"d":"2021-11-11","v":-0.1},{"d":"2021-11-15","v":-0.15},{"d":"2021-11-19","v":-0.08},{"d":"2021-11-23","v":-0.2},{"d":"2021-11-27","v":-0.12},{"d":"2021-12-01","v":-0.18},{"d":"2021-12-05","v":-0.1},{"d":"2021-12-09","v":-0.22},{"d":"2021-12-13","v":-0.15},{"d":"2021-12-17","v":-0.12},{"d":"2021-12-21","v":-0.18},{"d":"2021-12-25","v":-0.2},{"d":"2021-12-29","v":-0.22},{"d":"2022-01-02","v":-0.25},{"d":"2022-01-06","v":-0.2},{"d":"2022-01-10","v":-0.24},{"d":"2022-01-14","v":-0.22},{"d":"2022-01-18","v":-0.18},{"d":"2022-01-22","v":-0.2}
    ]
  },
  "layer": [
    {
      "layer": [
        {
          "data": {"name": "verschil"},
          "transform": [{"filter": "datum.v >= 0"}],
          "mark": {"type": "bar", "size": 1.6, "fill": {"gradient": "linear", "x1": 0, "y1": 0, "x2": 0, "y2": 1, "stops": [{"offset": 0, "color": "#2f7cbd"}, {"offset": 0.45, "color": "#93bfe2"}, {"offset": 1, "color": "#ffffff"}]}},
          "encoding": {
            "x": {
              "field": "d", "type": "temporal",
              "scale": {"type": "utc", "nice": false, "domain": [{"year": 2016, "month": 7, "date": 20, "utc": true}, {"year": 2022, "month": 1, "date": 22, "utc": true}]},
              "axis": {
                "title": null, "grid": false, "ticks": false, "labelAngle": 270, "labelPadding": 7,
                "format": "%-d-%-m-%Y", "labelFont": "Liberation Sans", "labelFontSize": 15, "labelColor": "#1a1a1a",
                "domainColor": "#d9d9d9", "labelOverlap": false, "labelFlush": false, "labelBound": false,
                "values": [
                  {"year": 2016, "month": 7, "date": 20, "utc": true}, {"year": 2016, "month": 11, "date": 17, "utc": true},
                  {"year": 2017, "month": 3, "date": 17, "utc": true}, {"year": 2017, "month": 7, "date": 15, "utc": true},
                  {"year": 2017, "month": 11, "date": 12, "utc": true}, {"year": 2018, "month": 3, "date": 12, "utc": true},
                  {"year": 2018, "month": 7, "date": 10, "utc": true}, {"year": 2018, "month": 11, "date": 7, "utc": true},
                  {"year": 2019, "month": 3, "date": 7, "utc": true}, {"year": 2019, "month": 7, "date": 5, "utc": true},
                  {"year": 2019, "month": 11, "date": 2, "utc": true}, {"year": 2020, "month": 3, "date": 1, "utc": true},
                  {"year": 2020, "month": 6, "date": 29, "utc": true}, {"year": 2020, "month": 10, "date": 27, "utc": true},
                  {"year": 2021, "month": 2, "date": 24, "utc": true}, {"year": 2021, "month": 6, "date": 24, "utc": true},
                  {"year": 2021, "month": 10, "date": 22, "utc": true}
                ]
              }
            },
            "y": {
              "field": "v", "type": "quantitative",
              "scale": {"domain": [-0.5, 6.5], "nice": false, "zero": false},
              "axis": {
                "orient": "right", "grid": false, "labelOverlap": false,
                "values": [-0.5, 0, 0.5, 1, 1.5, 2, 2.5, 3, 3.5, 4, 4.5, 5, 5.5, 6, 6.5],
                "labelExpr": "datum.value > 1.01 ? '' : (datum.value < -0.0001 ? '-' : '') + replace(format(abs(datum.value), '.1~f'), '.', ',')",
                "labelFont": "Liberation Sans", "labelFontSize": 15.5, "labelColor": "#1a1a1a", "labelPadding": 7, "labelAlign": "left",
                "tickSize": 5, "tickColor": "#bfbfbf", "domainColor": "#d9d9d9",
                "title": "Verschil (meter)", "titleFont": "Liberation Sans", "titleFontSize": 17, "titleFontWeight": "normal", "titleColor": "#1a1a1a",
                "titleAngle": 270, "titleX": 62, "titleY": 515, "titleAlign": "center", "titleBaseline": "middle"
              }
            }
          }
        },
        {
          "data": {"name": "verschil"},
          "transform": [{"filter": "datum.v < 0"}],
          "mark": {"type": "bar", "size": 1.6, "fill": {"gradient": "linear", "x1": 0, "y1": 0, "x2": 0, "y2": 1, "stops": [{"offset": 0, "color": "#eef5fb"}, {"offset": 1, "color": "#4a8fc9"}]}},
          "encoding": {
            "x": {"field": "d", "type": "temporal", "scale": {"type": "utc"}},
            "y": {"field": "v", "type": "quantitative"}
          }
        },
        {
          "data": {"name": "verschil"},
          "transform": [{"filter": "datum.v > 100"}],
          "mark": {"type": "point", "filled": true, "color": "#1766a6", "opacity": 1},
          "encoding": {
            "x": {"field": "d", "type": "temporal", "scale": {"type": "utc"}},
            "y": {"field": "v", "type": "quantitative"},
            "shape": {
              "datum": "Verschil", "type": "nominal",
              "scale": {"domain": ["Verschil"], "range": ["M-1,-0.33H1V0.33H-1Z"]},
              "legend": {
                "orient": "none", "legendX": 281, "legendY": 7, "title": null,
                "symbolSize": 784, "symbolFillColor": "#1766a6", "symbolStrokeWidth": 0,
                "labelFont": "Liberation Sans", "labelFontSize": 16, "labelColor": "#1a1a1a", "labelOffset": 4
              }
            }
          }
        }
      ]
    },
    {
      "layer": [
        {
          "data": {"values": [{}]},
          "mark": {"type": "rule", "color": "#3a3a3a", "strokeWidth": 1.2},
          "encoding": {
            "x": {"datum": {"year": 2016, "month": 7, "date": 22, "utc": true}, "type": "temporal"},
            "x2": {"datum": {"year": 2018, "month": 5, "date": 30, "utc": true}},
            "y": {"datum": 0.88, "type": "quantitative", "scale": {"domain": [-0.2, 1.3], "reverse": true, "nice": false, "zero": false}, "axis": null}
          }
        },
        {
          "data": {"values": [{}]},
          "mark": {"type": "rule", "color": "#3a3a3a", "strokeWidth": 1.2},
          "encoding": {
            "x": {"datum": {"year": 2018, "month": 7, "date": 1, "utc": true}, "type": "temporal"},
            "x2": {"datum": {"year": 2022, "month": 1, "date": 20, "utc": true}},
            "y": {"datum": 0.88, "type": "quantitative", "axis": null}
          }
        },
        {
          "data": {"values": [{}]},
          "mark": {"type": "point", "shape": "triangle-left", "filled": true, "color": "#111111", "opacity": 1, "size": 70},
          "encoding": {
            "x": {"datum": {"year": 2016, "month": 7, "date": 30, "utc": true}, "type": "temporal"},
            "y": {"datum": 0.88, "type": "quantitative", "axis": null}
          }
        },
        {
          "data": {"values": [{}]},
          "mark": {"type": "point", "shape": "triangle-right", "filled": true, "color": "#111111", "opacity": 1, "size": 70},
          "encoding": {
            "x": {"datum": {"year": 2018, "month": 5, "date": 28, "utc": true}, "type": "temporal"},
            "y": {"datum": 0.88, "type": "quantitative", "axis": null}
          }
        },
        {
          "data": {"values": [{}]},
          "mark": {"type": "point", "shape": "triangle-left", "filled": true, "color": "#111111", "opacity": 1, "size": 70},
          "encoding": {
            "x": {"datum": {"year": 2018, "month": 7, "date": 3, "utc": true}, "type": "temporal"},
            "y": {"datum": 0.88, "type": "quantitative", "axis": null}
          }
        },
        {
          "data": {"values": [{}]},
          "mark": {"type": "point", "shape": "triangle-right", "filled": true, "color": "#111111", "opacity": 1, "size": 70},
          "encoding": {
            "x": {"datum": {"year": 2022, "month": 1, "date": 14, "utc": true}, "type": "temporal"},
            "y": {"datum": 0.88, "type": "quantitative", "axis": null}
          }
        },
        {
          "data": {"values": [{}]},
          "mark": {"type": "text", "text": "Periode zonder", "align": "left", "baseline": "middle", "font": "Lato", "fontWeight": "bold", "fontSize": 16, "color": "#111111"},
          "encoding": {
            "x": {"datum": {"year": 2016, "month": 8, "date": 5, "utc": true}, "type": "temporal"},
            "y": {"datum": 0.791, "type": "quantitative", "axis": null}
          }
        },
        {
          "data": {"values": [{}]},
          "mark": {"type": "text", "text": "aangesloten WIS", "align": "left", "baseline": "middle", "font": "Lato", "fontWeight": "bold", "fontSize": 16, "color": "#111111"},
          "encoding": {
            "x": {"datum": {"year": 2016, "month": 8, "date": 5, "utc": true}, "type": "temporal"},
            "y": {"datum": 0.841, "type": "quantitative", "axis": null}
          }
        },
        {
          "data": {"values": [{}]},
          "mark": {"type": "text", "text": "Periode met AWIS", "align": "center", "baseline": "middle", "font": "Lato", "fontWeight": "bold", "fontSize": 16, "color": "#111111"},
          "encoding": {
            "x": {"datum": {"year": 2020, "month": 8, "date": 13, "utc": true}, "type": "temporal"},
            "y": {"datum": 0.848, "type": "quantitative", "axis": null}
          }
        },
        {
          "data": {"values": [{}]},
          "mark": {"type": "rect", "fill": "#bdd7ee", "stroke": "#2e7bc4", "strokeWidth": 1.5},
          "encoding": {
            "x": {"datum": {"year": 2019, "month": 5, "date": 23, "utc": true}, "type": "temporal"},
            "x2": {"datum": {"year": 2019, "month": 11, "date": 20, "utc": true}},
            "y": {"datum": 0.886, "type": "quantitative", "axis": null},
            "y2": {"datum": 0.962}
          }
        },
        {
          "data": {"values": [{}]},
          "mark": {"type": "rect", "fill": "#bdd7ee", "stroke": "#2e7bc4", "strokeWidth": 1.5},
          "encoding": {
            "x": {"datum": {"year": 2020, "month": 5, "date": 23, "utc": true}, "type": "temporal"},
            "x2": {"datum": {"year": 2020, "month": 11, "date": 20, "utc": true}},
            "y": {"datum": 0.921, "type": "quantitative", "axis": null},
            "y2": {"datum": 0.998}
          }
        },
        {
          "data": {"values": [{}]},
          "mark": {"type": "text", "text": "Bevloeiing", "align": "center", "baseline": "middle", "font": "Lato", "fontWeight": "bold", "fontSize": 16, "color": "#111111"},
          "encoding": {
            "x": {"datum": {"year": 2019, "month": 8, "date": 22, "utc": true}, "type": "temporal"},
            "y": {"datum": 0.924, "type": "quantitative", "axis": null}
          }
        },
        {
          "data": {"values": [{}]},
          "mark": {"type": "text", "text": "Bevloeiing", "align": "center", "baseline": "middle", "font": "Lato", "fontWeight": "bold", "fontSize": 16, "color": "#111111"},
          "encoding": {
            "x": {"datum": {"year": 2020, "month": 8, "date": 21, "utc": true}, "type": "temporal"},
            "y": {"datum": 0.96, "type": "quantitative", "axis": null}
          }
        }
      ]
    },
    {
      "layer": [
        {
          "data": {"name": "b013"},
          "mark": {"type": "line", "strokeWidth": 2.5, "strokeJoin": "round"},
          "encoding": {
            "x": {"field": "d", "type": "temporal", "scale": {"type": "utc"}},
            "y": {
              "field": "v", "type": "quantitative",
              "scale": {"domain": [-0.2, 1.3], "reverse": true, "nice": false, "zero": false},
              "axis": {
                "orient": "left", "labelOverlap": false, "labelSeparation": 0, "labelBound": false, "labelFlush": false,
                "tickCount": 16, "tickMinStep": 0.1,
                "values": [-0.2, -0.1, 0, 0.1, 0.2, 0.3, 0.4, 0.5, 0.6, 0.7, 0.8, 0.9, 1, 1.1, 1.2, 1.3],
                "labelExpr": "(datum.value < -0.0001 ? '-' : '') + replace(format(abs(datum.value), '.1~f'), '.', ',')",
                "labelFont": "Liberation Sans", "labelFontSize": 14, "labelColor": "#1a1a1a", "labelPadding": 8,
                "tickSize": 6, "tickColor": "#bfbfbf", "domainColor": "#d9d9d9",
                "grid": true, "gridColor": "#d9d9d9", "gridWidth": 1.2,
                "title": "meter maaiveld", "titleFont": "Liberation Sans", "titleFontSize": 15, "titleFontWeight": "normal", "titleColor": "#1a1a1a", "titlePadding": 28, "titleY": 287
              }
            },
            "color": {
              "datum": "B013 (AWIS)", "type": "nominal",
              "scale": {"domain": ["B013 (AWIS)", "B106 (Referentie)"], "range": ["#0e6db0", "#e03a30"]},
              "legend": {
                "orient": "none", "legendX": 418, "legendY": 5, "direction": "horizontal", "title": null,
                "symbolType": "stroke", "symbolSize": 784, "symbolStrokeWidth": 2.5,
                "labelFont": "Liberation Sans", "labelFontSize": 16, "labelColor": "#1a1a1a", "labelOffset": 4, "columnPadding": 38
              }
            }
          }
        },
        {
          "data": {"name": "b106"},
          "mark": {"type": "line", "strokeWidth": 2.5, "strokeJoin": "round"},
          "encoding": {
            "x": {"field": "d", "type": "temporal", "scale": {"type": "utc"}},
            "y": {"field": "v", "type": "quantitative"},
            "color": {"datum": "B106 (Referentie)", "type": "nominal"}
          }
        }
      ]
    }
  ],
  "resolve": {"scale": {"y": "independent"}},
  "config": {"view": {"stroke": null}, "axis": {"labelOverlap": false}, "axisY": {"labelOverlap": false}}
}
